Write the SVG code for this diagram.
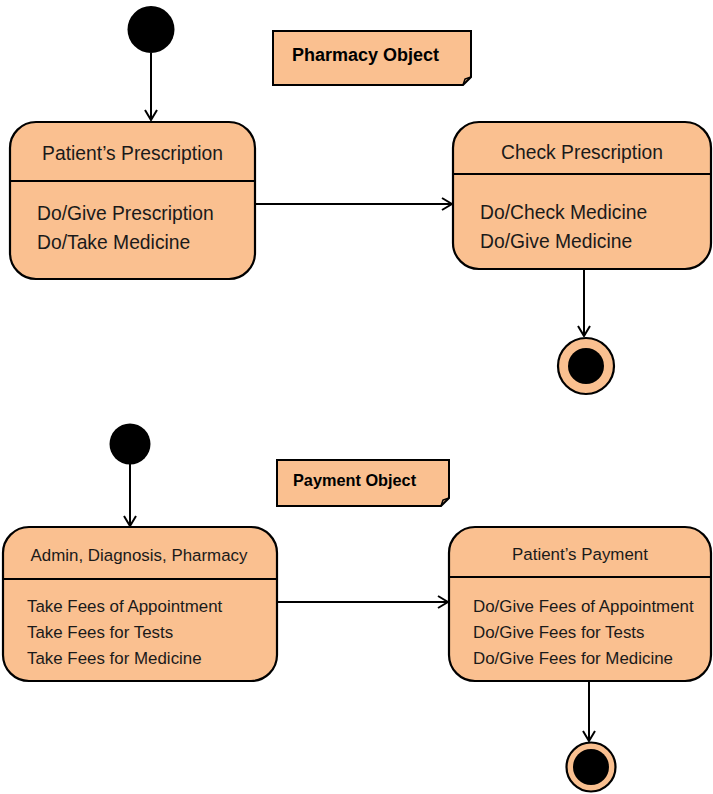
<svg xmlns="http://www.w3.org/2000/svg" width="713" height="794" viewBox="0 0 713 794">
  <style>
    .state { fill: #FAC090; stroke: #000; stroke-width: 2.2; }
    .div { stroke: #000; stroke-width: 2; }
    .start { fill: #000; }
    .endo { fill: #FAC090; stroke: #000; stroke-width: 2.2; }
    .endi { fill: #000; }
    .edge { fill: none; stroke: #000; stroke-width: 2; }
    .note { fill: #FAC090; stroke: #000; stroke-width: 2; stroke-linejoin: miter; }
    text { font-family: "Liberation Sans", Arial, sans-serif; fill: #1a1a1a; }
    .t1 { font-size: 19.3px; }
    .t2 { font-size: 16.9px; }
    .nb { font-weight: bold; fill: #000; }
  </style>
  <defs>
    <marker id="open" viewBox="0 0 12 14" refX="11" refY="7" markerWidth="12" markerHeight="14" markerUnits="userSpaceOnUse" orient="auto">
      <path d="M1,1 L11,7 L1,13" fill="none" stroke="#000" stroke-width="2"/>
    </marker>
  </defs>

  <!-- transitions -->
  <g id="connectors">
    <line class="edge" x1="151" y1="53" x2="151" y2="120" marker-end="url(#open)"/>
    <line class="edge" x1="255" y1="204" x2="452" y2="204" marker-end="url(#open)"/>
    <line class="edge" x1="584" y1="269" x2="584" y2="336" marker-end="url(#open)"/>
    <line class="edge" x1="130" y1="464" x2="130" y2="526" marker-end="url(#open)"/>
    <line class="edge" x1="277" y1="602" x2="448" y2="602" marker-end="url(#open)"/>
    <line class="edge" x1="589" y1="681" x2="589" y2="741" marker-end="url(#open)"/>
  </g>

  <!-- pharmacy workflow -->
  <g id="start1"><circle class="start" cx="151" cy="29.5" r="23.5"/></g>

  <g id="note-pharmacy">
    <path class="note" d="M273,31 H471 V77 L463,85 H273 Z"/>
    <path d="M463,85 L465,79 L471,77" fill="none" stroke="#000" stroke-width="1.5"/>
    <text class="nb" x="292" y="61" font-size="18">Pharmacy Object</text>
  </g>

  <g id="patient-prescription">
    <rect class="state" x="10" y="122" width="245" height="157" rx="26" ry="26"/>
    <line class="div" x1="10" y1="181" x2="255" y2="181"/>
    <text class="t1" x="132.5" y="160" text-anchor="middle">Patient’s Prescription</text>
    <text class="t1" x="37" y="220">Do/Give Prescription</text>
    <text class="t1" x="37" y="249">Do/Take Medicine</text>
  </g>

  <g id="check-prescription">
    <rect class="state" x="453" y="122" width="258" height="147" rx="26" ry="26"/>
    <line class="div" x1="453" y1="174" x2="711" y2="174"/>
    <text class="t1" x="582" y="159" text-anchor="middle">Check Prescription</text>
    <text class="t1" x="480" y="219">Do/Check Medicine</text>
    <text class="t1" x="480" y="248">Do/Give Medicine</text>
  </g>

  <g id="end1">
    <circle class="endo" cx="586" cy="366" r="28"/>
    <circle class="endi" cx="586" cy="366" r="18"/>
  </g>

  <!-- payment workflow -->
  <g id="start2"><circle class="start" cx="130" cy="444" r="20.5"/></g>

  <g id="note-payment">
    <path class="note" d="M277,460 H449 V498 L441,506 H277 Z"/>
    <path d="M441,506 L443,500 L449,498" fill="none" stroke="#000" stroke-width="1.5"/>
    <text class="nb" x="293" y="486" font-size="16.3">Payment Object</text>
  </g>

  <g id="admin-diagnosis-pharmacy">
    <rect class="state" x="3" y="527" width="274" height="154" rx="26" ry="26"/>
    <line class="div" x1="3" y1="579" x2="277" y2="579"/>
    <text class="t2" x="139" y="561" text-anchor="middle">Admin, Diagnosis, Pharmacy</text>
    <text class="t2" x="27" y="612">Take Fees of Appointment</text>
    <text class="t2" x="27" y="638">Take Fees for Tests</text>
    <text class="t2" x="27" y="664">Take Fees for Medicine</text>
  </g>

  <g id="patient-payment">
    <rect class="state" x="449" y="527" width="262" height="154" rx="26" ry="26"/>
    <line class="div" x1="449" y1="577" x2="711" y2="577"/>
    <text class="t2" x="580" y="560" text-anchor="middle">Patient’s Payment</text>
    <text class="t2" x="473" y="612">Do/Give Fees of Appointment</text>
    <text class="t2" x="473" y="638">Do/Give Fees for Tests</text>
    <text class="t2" x="473" y="664">Do/Give Fees for Medicine</text>
  </g>

  <g id="end2">
    <circle class="endo" cx="591" cy="767" r="24.5"/>
    <circle class="endi" cx="591" cy="767" r="18"/>
  </g>
</svg>
